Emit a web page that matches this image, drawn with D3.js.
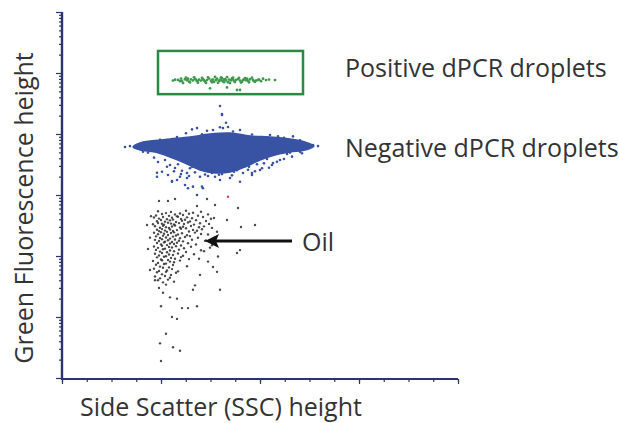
<!DOCTYPE html>
<html><head><meta charset="utf-8">
<script src="https://cdn.jsdelivr.net/npm/d3@7"></script>
<style>
body{margin:0;background:#fff}
svg{display:block}
text{font-family:"Open Sans",sans-serif;fill:#333}
</style>
</head><body>
<svg id="chart" width="619" height="423"></svg>
<script>
// ---------- data ----------
const xMajorTicks = [0, 99, 198, 297, 396];
const xMinorTicks = d3.range(0, 17).map(i => i * 24.75);
const yDecades = [1, 10, 100, 1000, 10000, 100000, 1000000];
const axisTitles = ["Side Scatter (SSC) height", "Green Fluorescence height"];
const labels = ["Positive dPCR droplets", "Negative dPCR droplets", "Oil"];

// positive-droplet gate [xmin,xmax], [ymin,ymax]
const gateX = [96, 241];
const gateY = [45000, 230000];

// positive droplets [SSC, green]
const positivePts = [[111,75000],[113,77500],[116,77000],[118,73500],[120,74000],[123,79000],[125,76000],[127,72000],[129,78500],[131,75500],[133,80000],[135,73500],[137,77500],[139,75000],[141,79000],[143,72500],[145,76500],[147,81000],[149,74500],[151,78000],[152,71500],[154,76000],[155,80500],[157,74000],[158,77500],[160,82000],[161,73000],[163,79000],[164,75500],[166,70500],[167,78000],[169,76000],[170,81500],[172,74000],[174,77000],[176,79500],[178,75000],[180,72000],[182,78500],[184,76000],[186,74500],[188,79000],[191,77000],[194,75000],[196,76800],[197,78000],[204,76500],[213,76500],[121,68500],[148,56100],[165,58000],[175,52600],[178,52600],
[124,84000],[128,70000],[132,85000],[136,69500],[140,83500],[144,68800],[146,84500],[150,70200],[153,86000],[156,69000],[159,84800],[162,70800],[165,85500],[168,68600],[171,84200],[173,71000],[177,83000],[179,69800],[183,82500],[187,70500],[190,83800],[193,71800],[199,73500],[201,80500],[207,78000],[119,81000],[126,80500],[134,78000],[142,76000],[150,77200],[159,75800],[162,78800],[171,78500],[181,76500],[185,80500],[192,73500]];

// dense core outline of negative droplets [SSC, green]
const negativeOutline = [[71,6120],[78,7120],[88,7670],[108,8280],[128,8930],[148,10000],[168,10380],[188,9270],[208,8930],[228,8280],[243,7390],[252,6350],[243,5470],[228,5070],[213,4530],[198,3750],[183,2880],[168,2380],[153,2300],[138,2570],[123,3350],[108,4200],[93,5070],[78,5470]];

// scattered negative droplets [SSC, green]
const negativePts = [[160,21300],[164,15300],[158,28800],[160,20500],[161,12500],[158,12900],[166,13000],[151,11600],[130,11900],[135,12500],[145,11300],[178,11600],[208,9630],[216,9130],[231,9130],[124,10300],[171,11000],[68,6330],[63,6120],[75,5910],[81,5130],[86,4960],[251,6600],[256,6330],[245,5680],[238,5130],[228,4960],[100,2410],[95,1995],[106,2130],[110,1650],[118,1995],[125,1900],[126,1290],[140,1370],[138,1995],[153,1995],[158,1760],[168,1900],[178,1650],[190,2130],[198,2570],[210,3100],[218,3750],[135,1000],[110,1690],[115,1760],[123,1460],[125,2300],[95,2320],[131,1370],[141,1290],[190,2290],[200,2740],[211,3350],[230,4250],[240,4830],[113,2770],[128,2740],[143,2170],[153,2740],[168,2990],[183,3100],[103,3750],[96,3470],[150,2300],[160,2200],[120,2500],[172,2400],[108,3100],[92,4100],[225,4700],[205,3900],[186,2600],[98,8000],[115,8900],[140,9900],[190,9800],[222,8700],[238,7900],
[105,2900],[112,2450],[119,2200],[127,2050],[133,2350],[146,2050],[151,2500],[157,2150],[163,2600],[170,2100],[176,2750],[181,2300],[187,2900],[193,2450],[202,3300],[207,2800],[215,3500],[222,3900],[116,3200],[130,2900],[145,2650],[160,2450],[175,2550],[195,3200]];

// oil droplets [SSC, green]
const oilPts = [
[96,540],[104,505],[109,528],[118,498],[124,552],[131,512],[139,530],
[94,462],[100,488],[107,455],[113,478],[115,447],[121,470],[127,492],[136,458],[146,481],
[92,428],[97,410],[101,437],[105,402],[110,425],[116,441],[119,406],[125,430],[130,415],[141,436],[149,409],
[95,372],[99,390],[103,366],[108,384],[111,395],[114,361],[120,378],[123,392],[128,369],[134,387],[144,374],
[91,331],[96,348],[100,337],[102,325],[106,352],[109,340],[112,329],[117,346],[122,334],[126,355],[132,327],[138,344],[147,336],
[93,308],[98,291],[101,312],[104,297],[107,287],[110,305],[113,316],[118,293],[121,302],[124,285],[129,310],[137,296],[142,306],[150,289],
[95,270],[97,256],[100,276],[103,261],[105,249],[108,272],[111,258],[115,266],[119,280],[127,252],[131,268],[135,259],[140,274],
[92,240],[96,228],[99,246],[102,231],[106,221],[109,238],[112,244],[116,226],[120,236],[125,219],[133,242],[139,230],[146,225],
[94,210],[98,198],[101,214],[104,201],[108,193],[111,208],[114,217],[118,196],[123,205],[128,212],[136,199],
[93,184],[97,176],[100,189],[103,172],[106,181],[110,170],[113,186],[117,178],[121,174],[130,185],[143,177],
[95,163],[99,155],[102,167],[105,151],[108,160],[112,157],[115,165],[119,149],[126,162],[134,154],
[92,143],[96,136],[100,147],[103,132],[107,141],[110,138],[114,145],[122,134],[129,142],[148,137],
[94,126],[98,118],[101,129],[105,115],[108,123],[112,120],[117,127],[124,116],[139,124],
[93,109],[97,102],[100,112],[104,99],[107,106],[111,104],[116,110],[121,101],[132,107],
[95,95],[99,88],[102,97],[106,86],[109,93],[113,90],[119,96],[127,89],
[91,83],[96,77],[100,85],[104,75],[108,81],[112,79],[118,84],
[94,72],[98,67],[102,74],[107,65],[111,71],[125,68],
[92,62],[97,57],[101,64],[105,58],[110,61],[116,56],
[95,54],[100,50],[104,55],[109,49],[114,53],
[93,46],[98,43],[103,47],[108,44],
[96,40],[101,37],[106,41],[112,38],
[97,800],[106,800],[113,860],[145,860],[153,686],[135,660],[176,612],[85,322],[179,299],[193,322],[165,389],[175,112],[178,125],[156,98],[146,81],[151,66],[155,55],[138,49],[131,28],[115,20],[108,21],[101,25],[93,40],[88,59],[158,28],[135,15],[126,14],[120,14],[99,15],[110,10],[115,9.3],[104,5.3],[98,3.7],[111,3.2],[118,2.8],[99,1.9],
[152,420],[155,250],[144,180],[150,150],[142,120],[137,90],[88,200],[86,130],[89,450],[133,33],[97,30],[104,34]
];
const oddPts = [[166,938]];

// annotation arrow for oil [from SSC, to SSC, green]
const oilArrow = [230, 143, 176];

// ---------- drawing ----------
const svg = d3.select("#chart");
const axisColor = "#2c3569";
const x = d3.scaleLinear().domain([0, 396]).range([62, 458]);
const y = d3.scaleLog().domain([1, 1e6]).range([378, 12]);

svg.append("rect").attr("width", 619).attr("height", 423).attr("fill", "#fff");

// y minor ticks
const yMinor = [];
yDecades.slice(0, -1).forEach(d => { for (let k = 2; k <= 9; k++) yMinor.push(d * k); });

const gy = svg.append("g").attr("transform", "translate(62,0)");
gy.call(d3.axisLeft(y).tickValues(yMinor).tickSize(3).tickSizeOuter(0).tickFormat(""));
gy.append("g").call(d3.axisLeft(y).tickValues(yDecades).tickSize(6).tickSizeOuter(0).tickFormat(""))
  .select(".domain").remove();
gy.selectAll("path.domain").attr("stroke", axisColor).attr("stroke-width", 2.4)
  .attr("d", `M0,${y(1e6)}V380`);
gy.selectAll(".tick line").attr("stroke", axisColor).attr("stroke-width", 1.2);

const gx = svg.append("g").attr("transform", "translate(0,379)");
gx.call(d3.axisBottom(x).tickValues(xMinorTicks).tickSize(3).tickSizeOuter(0).tickFormat(""));
gx.append("g").call(d3.axisBottom(x).tickValues(xMajorTicks).tickSize(5).tickSizeOuter(0).tickFormat(""))
  .select(".domain").remove();
gx.selectAll("path.domain").attr("stroke", axisColor).attr("stroke-width", 2.2)
  .attr("d", `M61,0H${x(396)}`);
gx.selectAll(".tick line").attr("stroke", axisColor).attr("stroke-width", 1.2);

// negative droplet dense core
const line = d3.line().x(d => x(d[0])).y(d => y(d[1])).curve(d3.curveCatmullRomClosed.alpha(0.5));
svg.append("path").datum(negativeOutline).attr("d", line).attr("fill", "#3953a4")
  .attr("stroke", "#3953a4").attr("stroke-width", 1.5);

svg.append("g").selectAll("circle").data(negativePts).join("circle")
  .attr("cx", d => x(d[0])).attr("cy", d => y(d[1])).attr("r", 1.3).attr("fill", "#3953a4");

svg.append("g").selectAll("circle").data(oilPts).join("circle")
  .attr("cx", d => x(d[0])).attr("cy", d => y(d[1])).attr("r", 1.2).attr("fill", "#2a2a2a").attr("opacity", 0.85);

svg.append("g").selectAll("circle").data(oddPts).join("circle")
  .attr("cx", d => x(d[0])).attr("cy", d => y(d[1])).attr("r", 1.2).attr("fill", "#e0405a");

svg.append("g").selectAll("circle").data(positivePts).join("circle")
  .attr("cx", d => x(d[0])).attr("cy", d => y(d[1])).attr("r", 1.4).attr("fill", "#3f9a4e");

// gate
svg.append("rect").attr("x", x(gateX[0])).attr("y", y(gateY[1]))
  .attr("width", x(gateX[1]) - x(gateX[0])).attr("height", y(gateY[0]) - y(gateY[1]))
  .attr("fill", "none").attr("stroke", "#2a8a45").attr("stroke-width", 2.5);

// arrow
const ay = y(oilArrow[2]);
svg.append("line").attr("x1", x(oilArrow[0])).attr("x2", x(oilArrow[1]) + 10)
  .attr("y1", ay).attr("y2", ay).attr("stroke", "#111").attr("stroke-width", 3);
const tip = x(oilArrow[1]);
svg.append("path").attr("d", `M${tip},${ay}L${tip + 14},${ay - 7}L${tip + 11},${ay}L${tip + 14},${ay + 7}Z`).attr("fill", "#111");

// labels
svg.append("text").attr("x", 345).attr("y", 77).attr("font-size", 25).text(labels[0]);
svg.append("text").attr("x", 345).attr("y", 157).attr("font-size", 25).text(labels[1]);
svg.append("text").attr("x", 302).attr("y", 251).attr("font-size", 25).text(labels[2]);

svg.append("text").attr("x", 80).attr("y", 416).attr("font-size", 25).text(axisTitles[0]);
svg.append("text").attr("transform", "translate(33,208) rotate(-90)").attr("text-anchor", "middle")
  .attr("font-size", 25).text(axisTitles[1]);
</script>
</body></html>
